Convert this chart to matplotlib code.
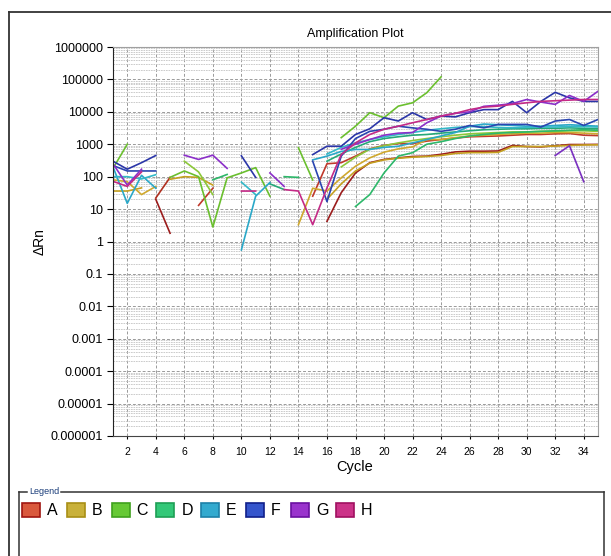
import numpy as np
import matplotlib
matplotlib.use('Agg')
from matplotlib import pyplot as plt
from matplotlib.lines import Line2D
from matplotlib.patches import Rectangle
from matplotlib.ticker import LogLocator, NullFormatter, FixedLocator

plt.rcParams['font.family'] = ['Liberation Sans', 'DejaVu Sans']

n = np.nan

# ##############################################################################
#
# Data
#

cycles = list(range(1, 36))

A1 = [n, n, n, 20, 1.8, n, n, n, n, n,
      n, n, n, n, n, 4.2, 32, 130, 270, 340,
      380, 420, 430, 490, 580, 610, 610, 620, 920, 850,
      830, 900, 980, 980, 990]
A2 = [n, n, n, n, n, n, 13, 44, n, n,
      n, n, n, n, 25, 250, 270, 430, 720, 920,
      1050, 1050, 1250, 1400, 1550, 1700, 1750, 1800, 1900, 2000,
      2000, 2100, 2150, 1900, 1850]
A3 = [n, n, n, 22, 95, n, n, n, n, n,
      n, n, n, n, n, n, n, n, n, n,
      n, n, n, n, n, n, n, n, n, n,
      n, n, n, n, n]
B1 = [36, 36, 45, n, 83, 100, 95, 55, n, n,
      n, n, n, n, n, 20, 60, 150, 260, 330,
      370, 400, 420, 450, 520, 550, 550, 560, 850, 850,
      850, 880, 920, 950, 960]
B2 = [80, 70, 28, 50, n, n, n, n, n, n,
      n, n, n, 3.3, 44, 36, 92, 210, 380, 570,
      720, 830, 1400, 1400, 1600, 1800, 1900, 2000, 2100, 2200,
      2200, 2300, 2300, 2200, 2100]
C1 = [180, 1000, n, n, 95, 150, 100, 2.8, 92, 130,
      190, 25, n, 780, 79, n, 1600, 3600, 9400, 6600,
      15000, 19000, 39000, 120000, n, n, n, n, n, n,
      n, n, n, n, n]
C2 = [n, n, n, n, n, 300, 140, 28, n, n,
      n, n, n, n, n, n, 200, 400, 700, 900,
      1100, 1300, 1500, 1700, 1900, 2100, 2200, 2300, 2400, 2400,
      2500, 2500, 2600, 2600, 2500]
D1 = [n, n, n, n, n, n, n, 80, 117, n,
      n, n, 100, 95, n, n, n, 12, 28, 130,
      430, 550, 1000, 1200, 1500, 1800, 2000, 2200, 2300, 2400,
      2500, 2600, 2700, 2800, 2700]
D2 = [n, n, n, n, n, n, n, n, n, n,
      n, 60, 40, n, n, 300, 500, 800, 1200, 1500,
      1700, 1900, 2000, 2200, 2400, 2600, 2800, 2900, 3000, 3000,
      3100, 3100, 3200, 3100, 3000]
E1 = [200, 15, 110, 44, n, n, n, n, n, 0.55,
      25, 66, n, n, 330, 430, 600, 690, 690, 800,
      870, 1100, 1400, 1800, 2300, 3600, 4200, 4000, 3800, 3600,
      3600, 3800, 4000, 3800, 3600]
E2 = [100, 100, 85, 115, n, n, n, n, n, 68,
      28, n, n, n, n, 500, 800, 1100, 1400, 1700,
      2000, 2300, 2700, 3000, 3300, 3500, 3500, 3300, 3200, 3300,
      3400, 3400, 3500, 3500, 3400]
F1 = [300, 170, 270, 450, n, n, n, n, n, 440,
      95, n, n, n, 480, 870, 870, 2000, 3000, 6600,
      5200, 9400, 5800, 7400, 7000, 9400, 11700, 11700, 21000, 9400,
      21000, 40000, 27000, 21000, 21000]
F2 = [220, 150, 150, 150, n, n, n, n, n, n,
      n, n, n, n, 300, 17, 430, 1500, 2500, 2900,
      3600, 3200, 2900, 2500, 2900, 3800, 3200, 4100, 4100, 4100,
      3400, 5200, 5800, 3800, 5800]
G1 = [250, 55, 170, n, n, 460, 340, 460, 180, n,
      n, 130, 50, n, n, n, 700, 1000, 1400, 1900,
      2200, 2300, 4600, 7400, 9000, 10000, 14800, 16000, 18000, 24000,
      20000, 17000, 32000, 21000, 43000]
G2 = [n, n, n, n, n, n, n, n, n, n,
      n, n, n, n, n, n, n, n, n, n,
      n, n, n, n, n, n, n, n, n, n,
      n, 450, 900, 70, n]
H1 = [72, 50, 140, n, n, n, n, n, n, 36,
      36, n, 40, 36, 3.3, 45, 480, 1100, 2000, 2900,
      3600, 4600, 5800, 7400, 9000, 11700, 14000, 15000, 17000, 19000,
      21000, 22000, 23000, 24000, 24000]

ytick_vals = [1e-6, 1e-5, 1e-4, 1e-3, 1e-2, 1e-1, 1, 10, 100, 1e3, 1e4, 1e5, 1e6]
ytick_labels = ['0.000001', '0.00001', '0.0001', '0.001', '0.01', '0.1', '1',
                '10', '100', '1000', '10000', '100000', '1000000']

legend_names = ['A', 'B', 'C', 'D', 'E', 'F', 'G', 'H']
legend_face = ['#d9583c', '#c9b13a', '#66c935', '#33c878', '#33aacf', '#3555cc', '#9933cc', '#cc3388']
legend_edge = ['#a01510', '#a88f15', '#3fa11e', '#1e9e55', '#1d80a8', '#101f8a', '#6a10a0', '#a01060']

series = [
    (A1, '#9b1c1c'), (A2, '#c0392b'), (A3, '#b03020'),
    (B1, '#c4a020'), (B2, '#cfa82e'),
    (C1, '#6abf2e'), (C2, '#8cc83a'),
    (D1, '#2db86a'), (D2, '#25a878'),
    (E1, '#2aa8c8'), (E2, '#33b8c8'),
    (F1, '#2b36a8'), (F2, '#2a45b0'),
    (G1, '#8b2fc9'), (G2, '#7a30c0'),
    (H1, '#c42a86'),
]

W, H = 611, 556
fig = plt.figure(figsize=(W / 100, H / 100), dpi=100)
ax = fig.add_axes([113 / W, 1 - 436 / H, 485 / W, 389 / H])

for vals, col in series:
    ax.plot(cycles, np.array(vals, dtype=float), color=col, lw=1.2)

ax.set_yscale('log')
ax.set_ylim(1e-6, 1e6)
ax.set_xlim(1, 35)
ax.yaxis.set_major_locator(FixedLocator(ytick_vals))
ax.set_yticklabels(ytick_labels, fontsize=9)
ax.yaxis.set_minor_locator(LogLocator(base=10, subs=np.arange(2, 10), numticks=100))
ax.yaxis.set_minor_formatter(NullFormatter())
ax.set_xticks(range(2, 35, 2))
ax.tick_params(axis='x', labelsize=7.5, length=2, pad=6)
ax.tick_params(axis='y', which='major', length=4, pad=3)
ax.tick_params(axis='y', which='minor', length=0)

ax.grid(True, which='major', axis='both', color='#9a9a9a', linestyle=(0, (3, 2)), lw=0.7)
ax.grid(True, which='minor', axis='y', color='#c4c4c4', linestyle=(0, (2, 1)), lw=0.6)
ax.set_axisbelow(True)

for side in ['top', 'right']:
    ax.spines[side].set_color('#a0a0a0')
ax.spines['left'].set_color('#222222')
ax.spines['bottom'].set_color('#444444')

ax.set_title('Amplification Plot', fontsize=9, pad=7)
ax.set_xlabel('Cycle', fontsize=10.5)
ax.xaxis.set_label_coords(0.499, -0.062)
ax.set_ylabel('ΔRn', fontsize=10)
ax.yaxis.set_label_coords(-0.136, 0.5)

# outer frame
fig.add_artist(Line2D([9 / W, 1], [1 - 12 / H] * 2, color='#333333', lw=1.3))
fig.add_artist(Line2D([9 / W] * 2, [0, 1 - 12 / H], color='#333333', lw=1.3))

# legend box
fig.add_artist(Line2D([19 / W, 27 / W], [1 - 492 / H] * 2, color='#333333', lw=1.1))
fig.add_artist(Line2D([61 / W, 604 / W], [1 - 492 / H] * 2, color='#333333', lw=1.1))
fig.add_artist(Line2D([19 / W] * 2, [0, 1 - 492 / H], color='#333333', lw=1.1))
fig.add_artist(Line2D([604 / W] * 2, [0, 1 - 492 / H], color='#333333', lw=1.1))
fig.text(44 / W, 1 - 491 / H, 'Legend', fontsize=6.5, color='#1a3d7a', ha='center', va='center')

for i, name in enumerate(legend_names):
    x0 = 22 + i * 44.8
    fig.add_artist(Rectangle((x0 / W, 1 - 517 / H), 18 / W, 14 / H, transform=fig.transFigure,
                             facecolor=legend_face[i], edgecolor=legend_edge[i], lw=1.2))
    fig.text((x0 + 25) / W, 1 - 510.5 / H, name, fontsize=11.5, ha='left', va='center')

fig.savefig('out.png', dpi=100)
